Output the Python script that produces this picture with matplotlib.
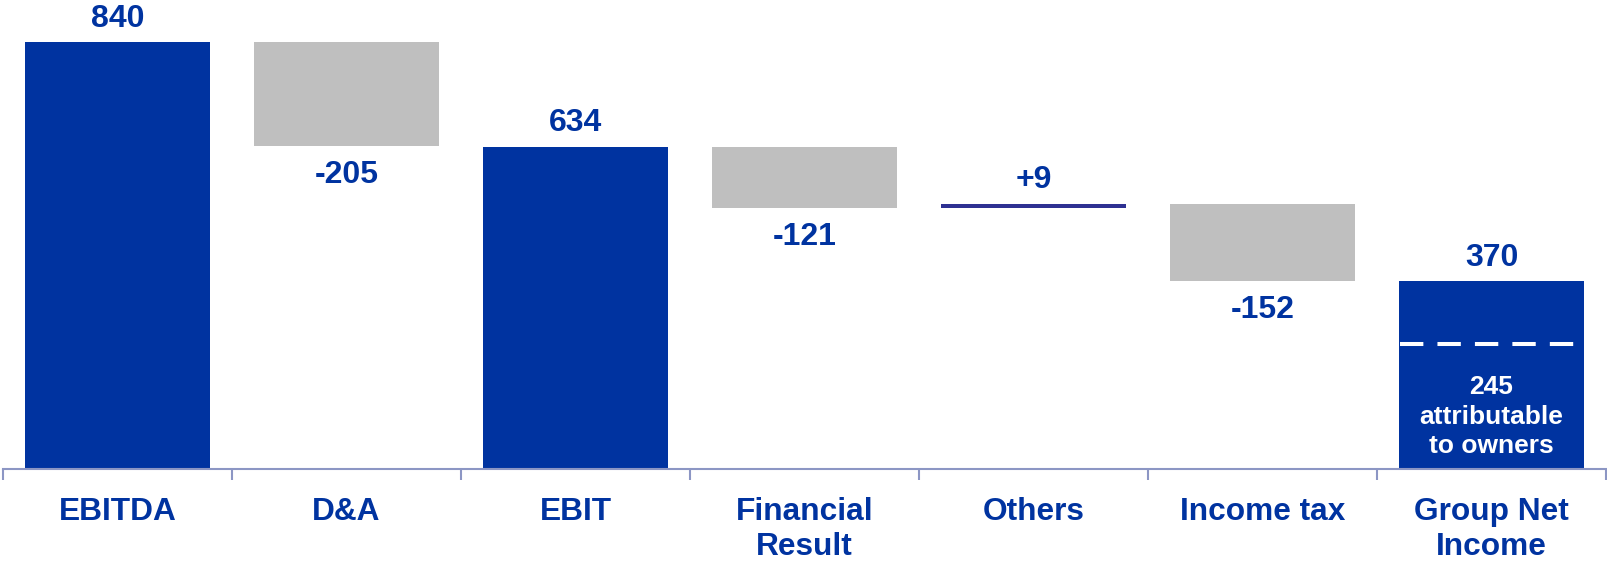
import matplotlib.pyplot as plt
import numpy as np

plt.rcParams['font.family'] = ['Liberation Sans', 'DejaVu Sans']

categories = ['EBITDA', 'D&A', 'EBIT', 'Financial\nResult', 'Others', 'Income tax', 'Group Net\nIncome']
values = [840, -205, 634, -121, 9, -152, 370]
is_total = [True, False, True, False, False, False, True]
value_labels = ['840', '-205', '634', '-121', '+9', '-152', '370']
attributable = 245
attributable_text = '245\nattributable\nto owners'

BLUE = '#0033a0'
GREY = '#bfbfbf'
NAVY = '#2e3192'
AXIS = '#8c96c4'

# waterfall bottoms / heights
bottoms = []
heights = []
colors = []
level = 0
for v, tot in zip(values, is_total):
    if tot:
        bottoms.append(0)
        heights.append(v)
        colors.append(BLUE)
        level = v
    else:
        if v < 0:
            bottoms.append(level + v)
            heights.append(-v)
            colors.append(GREY)
        else:
            bottoms.append(level)
            heights.append(v)
            colors.append(NAVY)
        level = level + v

fig = plt.figure(figsize=(16.07, 5.61), dpi=100)
ax = fig.add_axes([3 / 1607, 92 / 561, 1603 / 1607, 469 / 561])

x = np.arange(len(categories))
ax.bar(x, heights, bottom=bottoms, width=0.805, color=colors, linewidth=0, zorder=2)

ax.set_xlim(-0.5, len(categories) - 0.5)
ax.set_ylim(0, 922.7)

for i, (v, lab) in enumerate(zip(values, value_labels)):
    top = bottoms[i] + heights[i]
    if v >= 0:
        ax.annotate(lab, (x[i], top), xytext=(0, 11), textcoords='offset points',
                    ha='center', va='baseline', fontsize=23, fontweight='bold', color=BLUE)
    else:
        ax.annotate(lab, (x[i], bottoms[i]), xytext=(0, -10), textcoords='offset points',
                    ha='center', va='top', fontsize=23, fontweight='bold', color=BLUE)

# attributable to owners
last = len(categories) - 1
ax.plot([x[last] - 0.4, x[last] + 0.4], [attributable, attributable], color='white',
        lw=2.9, dashes=(5.8, 3.5), zorder=3)
ax.annotate(attributable_text, (x[last], attributable), xytext=(0, -22), textcoords='offset points',
            ha='center', va='top', fontsize=19, fontweight='bold', color='white',
            linespacing=1.3, zorder=4)

for s in ['top', 'left', 'right']:
    ax.spines[s].set_visible(False)
ax.spines['bottom'].set_color(AXIS)
ax.spines['bottom'].set_linewidth(1.5)
ax.set_yticks([])

ax.set_xticks(x)
ax.set_xticklabels(categories, fontsize=22.8, fontweight='bold', color=BLUE, linespacing=1.2)
ax.tick_params(axis='x', which='major', length=0, pad=20.5)
ax.set_xticks(np.arange(-0.5, len(categories)), minor=True)
ax.tick_params(axis='x', which='minor', length=8, width=1.5, color=AXIS, direction='out')

fig.savefig('out.png', dpi=100)
